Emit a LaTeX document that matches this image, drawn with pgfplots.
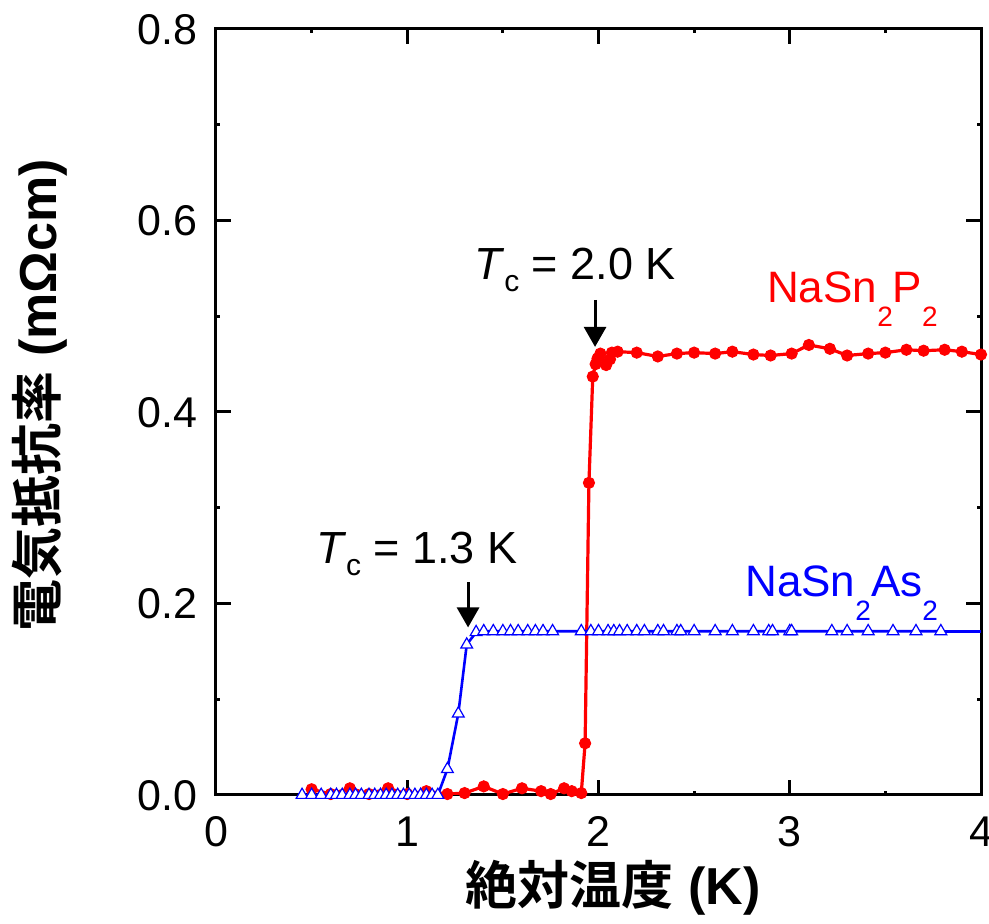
\documentclass[border=0pt]{standalone}
\usepackage{fontspec}
\setmainfont{Liberation Sans}
\newfontfamily\cjk{Noto Sans CJK JP}[BoldFont={Noto Sans CJK JP Bold}]
\usepackage{pgfplots}
\pgfplotsset{compat=1.18}
\usetikzlibrary{arrows.meta}
\newcommand{\sub}[1]{\raisebox{-12pt}{\fontsize{14}{16}\selectfont #1}}
\newcommand{\subc}{\raisebox{-6pt}{\fontsize{15}{16}\selectfont c}}
\begin{document}
\begin{tikzpicture}
\begin{axis}[
  name=ax,
  scale only axis,
  width=382.5pt, height=383pt,
  xmin=0, xmax=4, ymin=0, ymax=0.8,
  xtick={0,1,2,3,4},
  ytick={0,0.2,0.4,0.6,0.8},
  minor x tick num=1, minor y tick num=1,
  tick align=inside,
  major tick length=7.5pt, minor tick length=2pt,
  every tick/.style={black, line width=1.5pt},
  axis line style={line width=1.5pt},
  /pgf/number format/assume math mode=true,
  yticklabel style={/pgf/number format/fixed, /pgf/number format/fixed zerofill, /pgf/number format/precision=1},
  ticklabel style={font=\fontsize{21.5}{25}\selectfont},
  xticklabel style={anchor=base, yshift=-26pt},
  yticklabel style={anchor=base east, inner sep=0pt, xshift=-9pt, yshift=-7.75pt},
  xlabel={{\cjk\bfseries 絶対温度} \textbf{(K)}},
  ylabel={{\cjk\bfseries 電気抵抗率} \textbf{(mΩcm)}},
  label style={font=\fontsize{26}{30}\selectfont},
  xlabel style={at={(axis description cs:0.519,-0.121)}, anchor=center},
  ylabel style={at={(axis description cs:-0.230,0.522)}, anchor=center},
]
% NaSn2P2
\addplot[red, line width=1.6pt, mark=*, mark size=2.8pt, mark options={fill=red, draw=red, line width=0.5pt}] coordinates {
(0.50,0.006)(0.60,0.001)(0.70,0.007)(0.80,0.001)(0.90,0.007)(1.00,0.001)
(1.10,0.004)(1.21,0.001)(1.30,0.002)(1.40,0.009)(1.50,0.001)(1.60,0.007)
(1.70,0.004)(1.75,0.001)(1.82,0.007)(1.86,0.004)(1.91,0.002)
(1.93,0.054)(1.95,0.326)(1.97,0.437)(1.985,0.450)(1.995,0.456)(2.01,0.461)
(2.04,0.449)(2.06,0.455)(2.07,0.462)(2.10,0.463)(2.20,0.462)(2.31,0.458)
(2.41,0.461)(2.50,0.462)(2.61,0.461)(2.70,0.463)(2.81,0.460)(2.90,0.459)
(3.01,0.461)(3.10,0.470)(3.21,0.466)(3.30,0.459)(3.41,0.461)(3.50,0.462)
(3.61,0.465)(3.70,0.464)(3.81,0.465)(3.90,0.463)(4.00,0.460)
};
% NaSn2As2
\addplot[blue, line width=1.3pt, mark=triangle*, mark size=3.4pt, mark options={fill=white, draw=blue, line width=0.6pt}] coordinates {
(0.45,0.000)(0.50,0.000)(0.55,0.000)(0.60,0.000)(0.63,0.000)(0.66,0.000)
(0.70,0.000)(0.73,0.000)(0.76,0.000)(0.80,0.000)(0.83,0.000)(0.86,0.000)
(0.89,0.000)(0.92,0.000)(0.95,0.000)(0.98,0.000)(1.01,0.000)(1.04,0.000)
(1.07,0.000)(1.10,0.000)(1.13,0.000)(1.16,0.000)
(1.21,0.027)(1.267,0.085)(1.311,0.157)(1.36,0.170)
(1.40,0.171)(1.45,0.171)(1.50,0.171)(1.54,0.171)(1.58,0.171)(1.63,0.171)
(1.67,0.171)(1.71,0.171)(1.76,0.171)(1.91,0.171)(1.96,0.171)(2.00,0.171)
(2.05,0.171)(2.08,0.171)(2.11,0.171)(2.15,0.171)(2.20,0.171)(2.24,0.171)
(2.31,0.171)(2.34,0.171)(2.41,0.171)(2.43,0.171)(2.50,0.171)(2.61,0.171)
(2.70,0.171)(2.81,0.171)(2.89,0.171)(2.91,0.171)(3.00,0.171)(3.01,0.171)
(3.22,0.171)(3.30,0.171)(3.41,0.171)(3.54,0.171)(3.66,0.171)(3.79,0.171)
};
\addplot[blue, line width=1.3pt, no marks] coordinates {(3.79,0.171)(4.00,0.171)};
% annotations
\node[font=\fontsize{22.5}{26}\selectfont, anchor=center] at (axis cs:1.877,0.548) {\textit{T}\subc{} = 2.0 K};
\draw[line width=1.5pt, -{Triangle[width=11pt,length=10pt]}] (axis cs:1.982,0.517) -- (axis cs:1.982,0.468);
\node[font=\fontsize{22.5}{26}\selectfont, anchor=center] at (axis cs:1.05,0.252) {\textit{T}\subc{} = 1.3 K};
\draw[line width=1.5pt, -{Triangle[width=11pt,length=10pt]}] (axis cs:1.318,0.222) -- (axis cs:1.318,0.175);
\node[font=\fontsize{22}{26}\selectfont, anchor=base west, inner sep=0pt, text=red] at (axis cs:2.88,0.514) {NaSn\sub{2}P\sub{2}};
\node[font=\fontsize{22}{26}\selectfont, anchor=base west, inner sep=0pt, text=blue] at (axis cs:2.766,0.207) {NaSn\sub{2}As\sub{2}};
\end{axis}
\pgfresetboundingbox
\path[use as bounding box] ([shift={(-108pt,-64.5pt)}]ax.south west) rectangle ([shift={(4pt,14.5pt)}]ax.north east);
\end{tikzpicture}
\end{document}
